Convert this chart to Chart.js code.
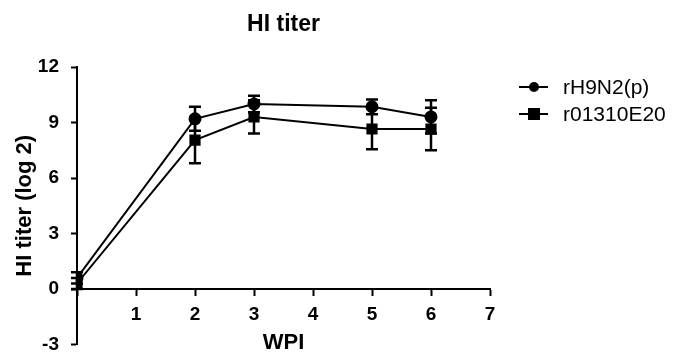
<!DOCTYPE html>
<html>
<head>
<meta charset="utf-8">
<script src="https://cdn.jsdelivr.net/npm/chart.js@4"></script>
<style>
  body { margin: 0; background: #fff; }
  #wrap { width: 679px; height: 353px; }
</style>
</head>
<body>
<div id="wrap"><canvas id="myChart"></canvas></div>
<script>
// weeks post infection
const weeks = [0, 2, 3, 5, 6];
const seriesNames = ['rH9N2(p)', 'r01310E20'];
const h9n2Mean = [0.6, 9.2, 10.0, 9.85, 9.3];
const h9n2Err = [0.3, 0.65, 0.45, 0.4, 0.9];
const r013Mean = [0.3, 8.05, 9.3, 8.65, 8.65];
const r013Err = [0.3, 1.25, 0.9, 1.1, 1.15];
const yTicks = [-3, 0, 3, 6, 9, 12];

const FONT = 'Arial, "Liberation Sans", sans-serif';

const ctx = document.getElementById('myChart');

// error bars + title + legend drawn on top
const extras = {
  id: 'extras',
  afterDatasetsDraw(chart) {
    const c = chart.ctx;
    const xs = chart.scales.x, ys = chart.scales.y;
    const errs = [h9n2Err, r013Err];
    c.save();
    c.strokeStyle = '#000';
    c.lineWidth = 2.5;
    chart.data.datasets.forEach((ds, i) => {
      ds.data.forEach((p, j) => {
        const px = xs.getPixelForValue(p.x);
        const top = ys.getPixelForValue(p.y + errs[i][j]);
        const bot = ys.getPixelForValue(p.y - errs[i][j]);
        c.beginPath();
        c.moveTo(px, top); c.lineTo(px, bot);
        c.moveTo(px - 6, top); c.lineTo(px + 6, top);
        c.moveTo(px - 6, bot); c.lineTo(px + 6, bot);
        c.stroke();
      });
    });
    c.restore();
  },
  afterDraw(chart) {
    const c = chart.ctx;
    const area = chart.chartArea;
    c.save();
    c.fillStyle = '#000';
    c.font = 'bold 23px ' + FONT;
    c.textAlign = 'center';
    c.textBaseline = 'middle';
    c.fillText('HI titer', (area.left + area.right) / 2, 25);

    // legend
    const rows = [87, 114];
    c.font = '21px ' + FONT;
    c.textAlign = 'left';
    chart.data.datasets.forEach((ds, i) => {
      const y = rows[i];
      c.strokeStyle = '#000';
      c.lineWidth = 2;
      c.beginPath();
      c.moveTo(519, y); c.lineTo(548, y);
      c.stroke();
      if (i === 0) {
        c.beginPath();
        c.arc(534, y, 5, 0, Math.PI * 2);
        c.fill();
      } else {
        c.fillRect(528, y - 6, 12, 12);
      }
      c.fillText(ds.label, 563, y + 1);
    });
    c.restore();
  }
};

new Chart(ctx, {
  type: 'line',
  data: {
    datasets: [{
      label: seriesNames[0],
      data: weeks.map((w, i) => ({ x: w, y: h9n2Mean[i] })),
      borderColor: '#000',
      backgroundColor: '#000',
      borderWidth: 2,
      pointStyle: 'circle',
      pointRadius: 5.5
    }, {
      label: seriesNames[1],
      data: weeks.map((w, i) => ({ x: w, y: r013Mean[i] })),
      borderColor: '#000',
      backgroundColor: '#000',
      borderWidth: 2,
      pointStyle: 'rect',
      pointRadius: 6.5
    }]
  },
  options: {
    responsive: true,
    maintainAspectRatio: false,
    animation: false,
    layout: { padding: { left: 0, right: 189, top: 67, bottom: 7 } },
    plugins: {
      legend: { display: false },
      title: { display: false },
      tooltip: { enabled: false }
    },
    scales: {
      x: {
        type: 'linear',
        position: { y: 0 },
        min: 0,
        max: 7,
        grid: { drawOnChartArea: false, color: '#000', tickLength: 6, tickWidth: 2 },
        border: { color: '#000', width: 2 },
        ticks: {
          stepSize: 1,
          color: '#000',
          font: { family: FONT, size: 19, weight: 'bold' },
          padding: 8,
          callback: v => (v === 0 ? '' : v)
        },
        title: {
          display: true,
          text: 'WPI',
          color: '#000',
          font: { family: FONT, size: 22, weight: 'bold' },
          padding: { top: -4, bottom: 0 }
        }
      },
      y: {
        min: -3,
        max: 12,
        afterBuildTicks: s => { s.ticks = yTicks.map(v => ({ value: v })); },
        afterFit: s => { s.width = 77; s.paddingTop = 0; s.paddingBottom = 0; },
        grid: { drawOnChartArea: false, color: '#000', tickLength: 6, tickWidth: 2 },
        border: { color: '#000', width: 2 },
        ticks: {
          color: '#000',
          font: { family: FONT, size: 19, weight: 'bold' },
          padding: 12
        },
        title: {
          display: true,
          text: 'HI titer (log 2)',
          color: '#000',
          font: { family: FONT, size: 22, weight: 'bold' },
          padding: { top: 12, bottom: 0 }
        }
      }
    }
  },
  plugins: [extras]
});
</script>
</body>
</html>
